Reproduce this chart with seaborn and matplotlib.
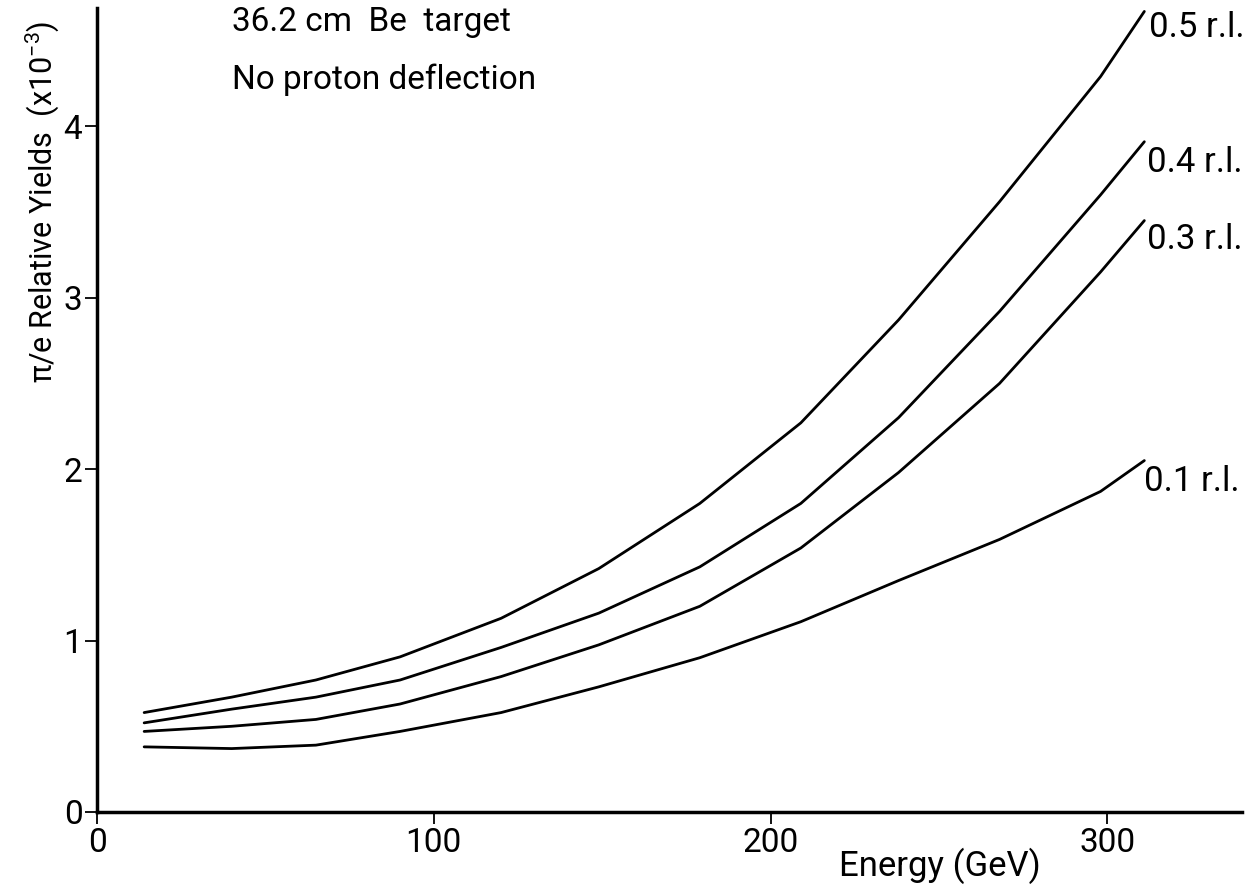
import matplotlib
matplotlib.use("Agg")
import matplotlib.pyplot as plt
import pandas as pd
import seaborn as sns

# ---- data ----
energy = [14, 40, 65, 90, 120, 149, 179, 209, 238, 268, 298, 311]
yield_05 = [0.58, 0.67, 0.77, 0.905, 1.13, 1.42, 1.80, 2.27, 2.87, 3.56, 4.29, 4.67]
yield_04 = [0.52, 0.60, 0.67, 0.77, 0.96, 1.16, 1.43, 1.80, 2.30, 2.92, 3.60, 3.91]
yield_03 = [0.47, 0.50, 0.54, 0.63, 0.79, 0.975, 1.20, 1.54, 1.98, 2.50, 3.15, 3.45]
yield_01 = [0.38, 0.37, 0.39, 0.47, 0.58, 0.73, 0.90, 1.11, 1.35, 1.59, 1.87, 2.05]
series_labels = ["0.5 r.l.", "0.4 r.l.", "0.3 r.l.", "0.1 r.l."]
x_ticks = [0, 100, 200, 300]
y_ticks = [0, 1, 2, 3, 4]

rows = []
for lab, vals in zip(series_labels, [yield_05, yield_04, yield_03, yield_01]):
    for e, v in zip(energy, vals):
        rows.append({"energy": e, "yield": v, "target": lab})
df = pd.DataFrame(rows)

sns.set_theme(style="ticks")
plt.rcParams["font.family"] = ["Roboto", "DejaVu Sans"]
plt.rcParams["mathtext.fontset"] = "custom"
plt.rcParams["mathtext.rm"] = "Roboto"
for k in ["text.color", "axes.labelcolor", "xtick.color", "ytick.color",
          "xtick.labelcolor", "ytick.labelcolor", "axes.edgecolor"]:
    plt.rcParams[k] = "black"

fig = plt.figure(figsize=(12.54, 8.9), dpi=100)
ax = fig.add_axes([97 / 1254, 1 - 812 / 890, (1242 - 97) / 1254, (812 - 8) / 890])

sns.lineplot(data=df, x="energy", y="yield", hue="target",
             palette=["black"] * 4, legend=False, linewidth=2.0, ax=ax)

ax.set_xlim(0, 340)
ax.set_ylim(0, 4.69)
ax.set_xticks(x_ticks)
ax.set_yticks(y_ticks)
ax.set_xticklabels([str(t) for t in x_ticks])
ax.set_yticklabels([str(t) for t in y_ticks])
ax.tick_params(axis="both", direction="out", length=8.5, width=1.3,
               labelsize=24, pad=2)
for s in ["top", "right"]:
    ax.spines[s].set_visible(False)
for s in ["left", "bottom"]:
    ax.spines[s].set_linewidth(2.5)
ax.set_facecolor("white")

ax.set_xlabel("")
ax.set_ylabel("")
fig.text(940 / 1254, 1 - 866 / 890, "Energy (GeV)", fontsize=25,
         ha="center", va="center")
fig.text(42 / 1254, 1 - 202 / 890, r"π/e Relative Yields  (x10$^{-3}$)",
         fontsize=22, rotation=90, ha="center", va="center")

ax.text((232 - 97) / 1145, (812 - 22) / 804, "36.2 cm  Be  target",
        transform=ax.transAxes, fontsize=24, ha="left", va="center")
ax.text((232 - 97) / 1145, (812 - 80) / 804, "No proton deflection",
        transform=ax.transAxes, fontsize=24, ha="left", va="center")

offsets = [(5, -16), (3, -21), (3, -19), (0, -21)]
for lab, vals, off in zip(series_labels, [yield_05, yield_04, yield_03, yield_01], offsets):
    ax.annotate(lab, xy=(energy[-1], vals[-1]), xytext=off,
                textcoords="offset pixels", fontsize=25,
                ha="left", va="center", annotation_clip=False)

fig.savefig("out.png", dpi=100, facecolor="white")
